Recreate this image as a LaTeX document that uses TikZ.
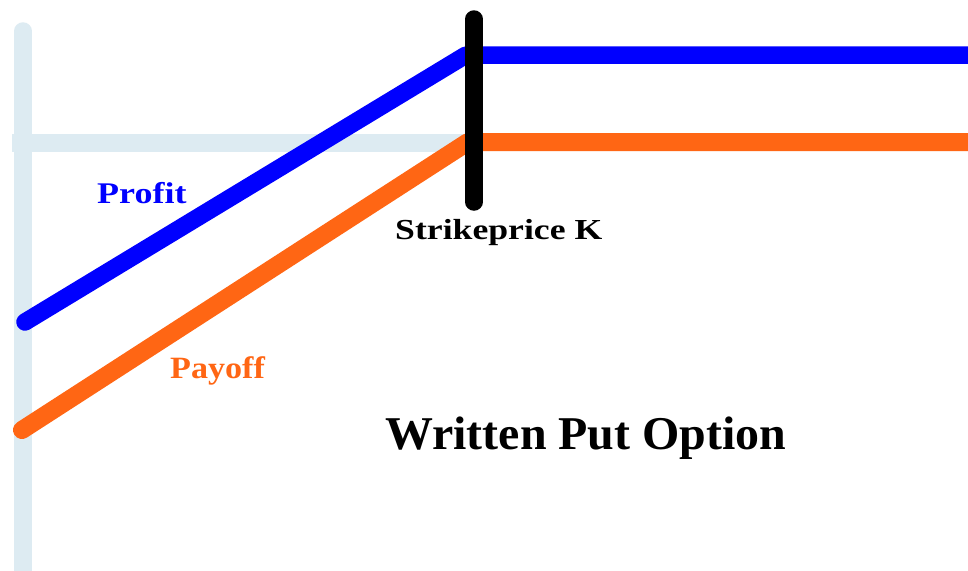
\documentclass[tikz,border=0pt]{standalone}
\usepackage{fontspec}
\usepackage{graphicx}
\setmainfont{Liberation Serif}
\definecolor{axiscol}{RGB}{221,235,242}
\definecolor{profitcol}{RGB}{0,0,255}
\definecolor{payoffcol}{RGB}{255,102,20}
\tikzset{
  axisline/.style={draw=axiscol,line width=17.5pt},
  profitline/.style={draw=profitcol,line width=17.5pt,line cap=round,line join=round},
  payoffline/.style={draw=payoffcol,line width=18pt,line cap=round,line join=round},
  strikeline/.style={draw=black,line width=17.5pt,line cap=round},
  lbl/.style={anchor=base west,inner sep=0pt,font=\bfseries}
}
\begin{document}
\begin{tikzpicture}[x=1pt,y=-1pt]
\useasboundingbox[fill=white] (0,0) rectangle (968,570);
% axes
\coordinate (ay0) at (23,31);
\coordinate (ay1) at (23,575);
\coordinate (ax0) at (12,143);
\coordinate (ax1) at (470,143);
\draw[axisline,line cap=round] (ay0) -- (23,570);
\draw[axisline] (23,560) -- (ay1);
\draw[axisline] (ax0) -- (ax1);
% payoff
\coordinate (p0) at (22,430);
\coordinate (p1) at (468,142);
\coordinate (p2) at (975,142);
\draw[payoffline] (p0) -- (p1) -- (p2);
% profit
\coordinate (q0) at (25,322);
\coordinate (q1) at (466,55);
\coordinate (q2) at (975,55);
\draw[profitline] (q0) -- (q1) -- (q2);
% strike
\coordinate (s0) at (474,19);
\coordinate (s1) at (474,202);
\draw[strikeline] (s0) -- (s1);
% labels
\node[lbl,text=profitcol,font=\bfseries\fontsize{30}{30}\selectfont] (profit) at (97,203) {\scalebox{1.2}[1]{Profit}};
\node[lbl,text=payoffcol,font=\bfseries\fontsize{31}{31}\selectfont] (payoff) at (170,378) {\scalebox{1.1}[1]{Payoff}};
\node[lbl,font=\bfseries\fontsize{29}{29}\selectfont] (strike) at (395,239) {\scalebox{1.23}[1]{Strikeprice K}};
\node[lbl,font=\bfseries\fontsize{47}{47}\selectfont] (title) at (385,449) {\scalebox{1.02}[1]{Written Put Option}};
\end{tikzpicture}
\end{document}
